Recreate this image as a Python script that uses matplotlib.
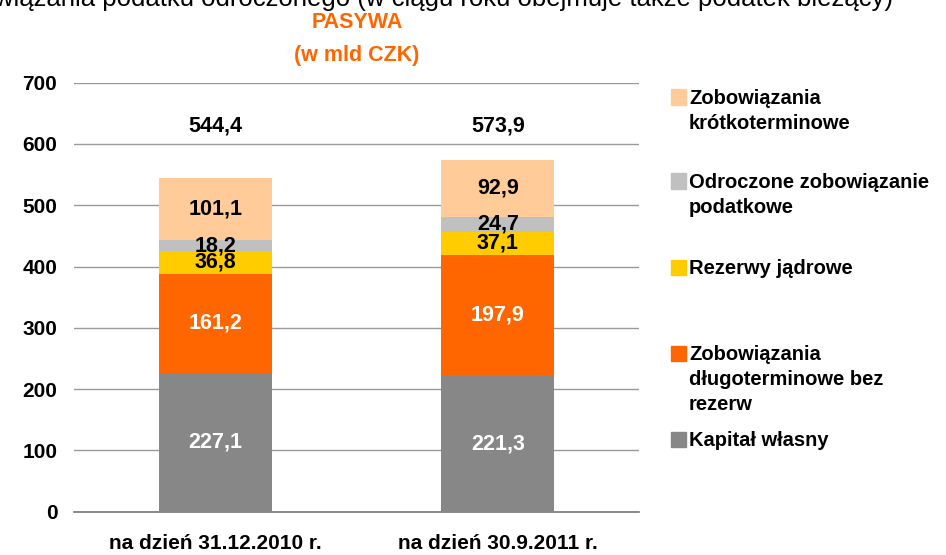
import matplotlib
matplotlib.use("Agg")
import matplotlib.pyplot as plt
from matplotlib.patches import Rectangle

plt.rcParams['font.family'] = ['Liberation Sans', 'DejaVu Sans']

categories = ["na dzień 31.12.2010 r.", "na dzień 30.9.2011 r."]
series_names = ["Kapitał własny",
                "Zobowiązania\ndługoterminowe bez\nrezerw",
                "Rezerwy jądrowe",
                "Odroczone zobowiązanie\npodatkowe",
                "Zobowiązania\nkrótkoterminowe"]
kapital = [227.1, 221.3]
dlugoterm = [161.2, 197.9]
rezerwy = [36.8, 37.1]
odroczone = [18.2, 24.7]
krotkoterm = [101.1, 92.9]
totals = ["544,4", "573,9"]
yticks = [0, 100, 200, 300, 400, 500, 600, 700]

series = [kapital, dlugoterm, rezerwy, odroczone, krotkoterm]
colors = ["#878787", "#FF6600", "#FFCC00", "#C0C0C0", "#FFCC99"]
label_colors = ["white", "white", "black", "black", "black"]
ORANGE = "#FF6600"

W, H = 946, 555
fig = plt.figure(figsize=(W / 100, H / 100), dpi=100)
ax = fig.add_axes([74 / W, (H - 511.7) / H, (639 - 74) / W, (511.7 - 82.7) / H])

x = list(range(len(categories)))
bottoms = [0.0] * len(categories)
for vals, col, lc in zip(series, colors, label_colors):
    ax.bar(x, vals, width=0.4, bottom=bottoms, color=col, zorder=3)
    for i, v in enumerate(vals):
        ax.text(x[i], bottoms[i] + v / 2, f"{v:.1f}".replace(".", ","),
                ha="center", va="center", color=lc, fontsize=15.5,
                fontweight="bold", zorder=4)
    bottoms = [b + v for b, v in zip(bottoms, vals)]

for i, t in enumerate(totals):
    ax.text(x[i], 630, t, ha="center", va="center", fontsize=15.5,
            fontweight="bold", color="black")

ax.set_xlim(-0.5, 1.5)
ax.set_ylim(0, 700)
ax.set_yticks(yticks)
ax.set_yticklabels([str(t) for t in yticks], fontsize=15, fontweight="bold")
ax.set_xticks(x)
ax.set_xticklabels(categories, fontsize=15, fontweight="bold")
ax.tick_params(axis="both", length=0)
ax.tick_params(axis="y", pad=12)
ax.tick_params(axis="x", pad=16)
ax.yaxis.grid(True, color="#999999", linewidth=1.0, zorder=0)
for s in ["top", "right", "left"]:
    ax.spines[s].set_visible(False)
ax.spines["bottom"].set_color("#777777")
ax.spines["bottom"].set_linewidth(1.2)

# Titles
fig.text(357 / W, 1 - 22 / H, "PASYWA", ha="center", va="center",
         color=ORANGE, fontsize=15.5, fontweight="bold")
fig.text(357 / W, 1 - 55 / H, "(w mld CZK)", ha="center", va="center",
         color=ORANGE, fontsize=15.5, fontweight="bold")
# Cut-off text at top (only its lower part is visible, as in the reference)
fig.text(893 / W, 1 - 6 / H,
         "zobowiązania podatku odroczonego (w ciągu roku obejmuje także podatek bieżący)",
         ha="right", va="baseline", fontsize=18.5, color="black")

# Legend (manual)
legend_y = [97, 181, 267, 353, 439]
order = [4, 3, 2, 1, 0]
line_step = 24.5
for yy, idx in zip(legend_y, order):
    fig.patches.append(Rectangle((671 / W, 1 - (yy + 7.5) / H), 15 / W, 15 / H,
                                 transform=fig.transFigure, color=colors[idx],
                                 figure=fig))
    for k, line in enumerate(series_names[idx].split("\n")):
        fig.text(689 / W, 1 - (yy + k * line_step) / H, line, ha="left",
                 va="center_baseline", fontsize=14.5, fontweight="bold")

fig.savefig("out.png", dpi=100)
